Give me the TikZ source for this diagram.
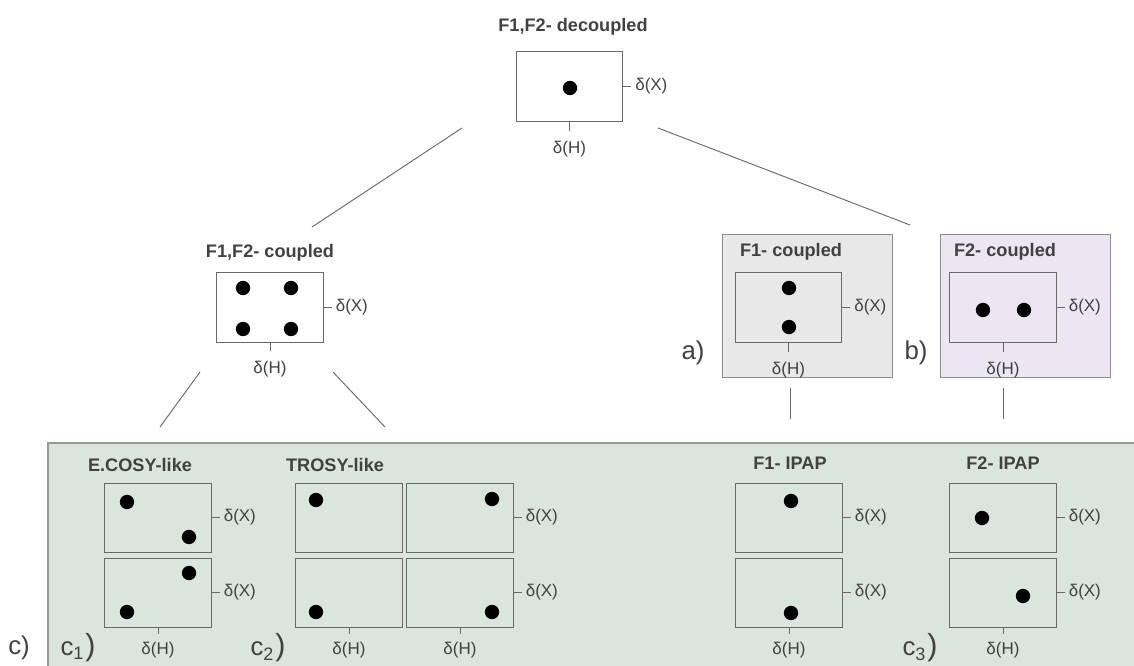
\documentclass[tikz,border=0pt]{standalone}
\usepackage{fontspec}
\setmainfont{Liberation Sans}
\usetikzlibrary{positioning}
\definecolor{boxgrey}{RGB}{105,105,105}
\definecolor{textgrey}{RGB}{65,65,65}
\definecolor{greenbg}{RGB}{218,229,222}
\definecolor{greenedge}{RGB}{150,155,152}
\definecolor{fonebg}{RGB}{232,232,232}
\definecolor{ftwobg}{RGB}{236,229,242}
\definecolor{paneledge}{RGB}{140,140,140}
\begin{document}
\begin{tikzpicture}[x=0.03cm,y=-0.03cm]
    \tikzstyle{spec}=[draw=boxgrey,thick,minimum width=3.2cm,minimum height=2.1cm,inner sep=0pt]
    \tikzstyle{specs}=[spec,minimum height=2.07cm]
    \tikzstyle{peak}=[circle,fill=black,inner sep=0pt,minimum size=0.43cm]
    \tikzstyle{title}=[font=\bfseries\fontsize{15.5}{17}\selectfont,text=textgrey]
    \tikzstyle{axis}=[font=\fontsize{14.5}{16}\selectfont,text=textgrey,inner sep=1pt]
    \tikzstyle{tag}=[font=\fontsize{22}{24}\selectfont,text=textgrey]
    \tikzstyle{tick}=[draw=boxgrey,thick]
    \tikzstyle{link}=[draw=boxgrey,thick]
    \useasboundingbox (0,0) rectangle (1134,666);

    % coloured panels
    \fill[greenbg] (48,443) rectangle (1134,666);
    \draw[greenedge,very thick] (48,666) -- (48,443) -- (1134,443);
    \filldraw[fill=fonebg,draw=paneledge,thick] (722,234) rectangle (892,377);
    \filldraw[fill=ftwobg,draw=paneledge,thick] (940,234) rectangle (1110,377);

    % top: decoupled
    \node [title] (tdec) at (573,27) {F1,F2- decoupled};
    \node [spec] (dec) at (569.5,86.5) {};
    \node [peak] (p0) at (570,88) {};

    % coupled
    \node [title] (tcpl) at (270,253) {F1,F2- coupled};
    \node [spec] (cpl) at (270,307) {};
    \node [peak] (p1) at (243,288) {};
    \node [peak] (p2) at (291,288) {};
    \node [peak] (p3) at (243,329) {};
    \node [peak] (p4) at (291,329) {};

    \node [title] (tfone) at (791,252) {F1- coupled};
    \node [spec] (fone) at (788.5,307.5) {};
    \node [peak] (p5) at (789,288) {};
    \node [peak] (p6) at (789,327) {};
    \node [tag] (la) at (693,353) {a)};

    \node [title] (tftwo) at (1005,252) {F2- coupled};
    \node [spec] (ftwo) at (1003,307.5) {};
    \node [peak] (p7) at (983,310) {};
    \node [peak] (p8) at (1024,310) {};
    \node [tag] (lb) at (916,353) {b)};

    % bottom row
    \node [title] (tecosy) at (140,465) {E.COSY-like};
    \node [specs] (ecA) at (158,517.5) {};
    \node [specs] (ecB) at (158,592.5) {};
    \node [peak] (q1) at (127,502) {};
    \node [peak] (q2) at (189,537) {};
    \node [peak] (q3) at (189,573) {};
    \node [peak] (q4) at (127,612) {};

    \node [title] (ttrosy) at (335,465) {TROSY-like};
    \node [specs] (trA) at (349,517.5) {};
    \node [specs] (trB) at (349,592.5) {};
    \node [specs] (trC) at (460,517.5) {};
    \node [specs] (trD) at (460,592.5) {};
    \node [peak] (q5) at (316,500) {};
    \node [peak] (q6) at (492,499) {};
    \node [peak] (q7) at (316,612) {};
    \node [peak] (q8) at (492,612) {};

    \node [title] (tipone) at (790,463) {F1- IPAP};
    \node [specs] (ipA) at (789,517.5) {};
    \node [specs] (ipB) at (789,592.5) {};
    \node [peak] (q9) at (791,501) {};
    \node [peak] (q10) at (791,613) {};

    \node [title] (tiptwo) at (1003,463) {F2- IPAP};
    \node [specs] (ipC) at (1003,517.5) {};
    \node [specs] (ipD) at (1003,592.5) {};
    \node [peak] (q11) at (982,518) {};
    \node [peak] (q12) at (1023,596) {};

    \node [tag] (lc) at (19,648) {c)};
    \node [tag] (lcone) at (78,648) {c\textsubscript{1}\kern1pt{\fontsize{26}{26}\selectfont)}};
    \node [tag] (lctwo) at (268,648) {c\textsubscript{2}\kern1pt{\fontsize{26}{26}\selectfont)}};
    \node [tag] (lcthree) at (920,648) {c\textsubscript{3}\kern1pt{\fontsize{26}{26}\selectfont)}};

    % axis ticks and labels
    \foreach \b in {dec,cpl,fone,ftwo,ecA,ecB,trC,trD,ipA,ipB,ipC,ipD}
        \draw[tick] (\b.east) -- ++(8,0) node[axis,right=2pt] {δ(X)};
    \foreach \b in {dec,cpl,fone,ftwo}
        \draw[tick] (\b.south) -- ++(0,9) node[axis,below=7pt] {δ(H)};
    \foreach \b in {ecB,trB,trD,ipB,ipD}
        \draw[tick] (\b.south) -- ++(0,7) node[axis,below=5pt] {δ(H)};

    % connectors
    \coordinate (d1) at (462,128);
    \coordinate (d2) at (658,128);
    \coordinate (c1) at (312,227);
    \coordinate (c2) at (910,225);
    \coordinate (e1) at (200,372);
    \coordinate (e2) at (160,427);
    \coordinate (e3) at (333,372);
    \coordinate (e4) at (385,427);
    \coordinate (f1) at (790,388);
    \coordinate (f2) at (790,419);
    \coordinate (f3) at (1003,388);
    \coordinate (f4) at (1003,419);
    \path[link] (d1) -- (c1);
    \path[link] (d2) -- (c2);
    \path[link] (e1) -- (e2);
    \path[link] (e3) -- (e4);
    \path[link] (f1) -- (f2);
    \path[link] (f3) -- (f4);
\end{tikzpicture}
\end{document}
